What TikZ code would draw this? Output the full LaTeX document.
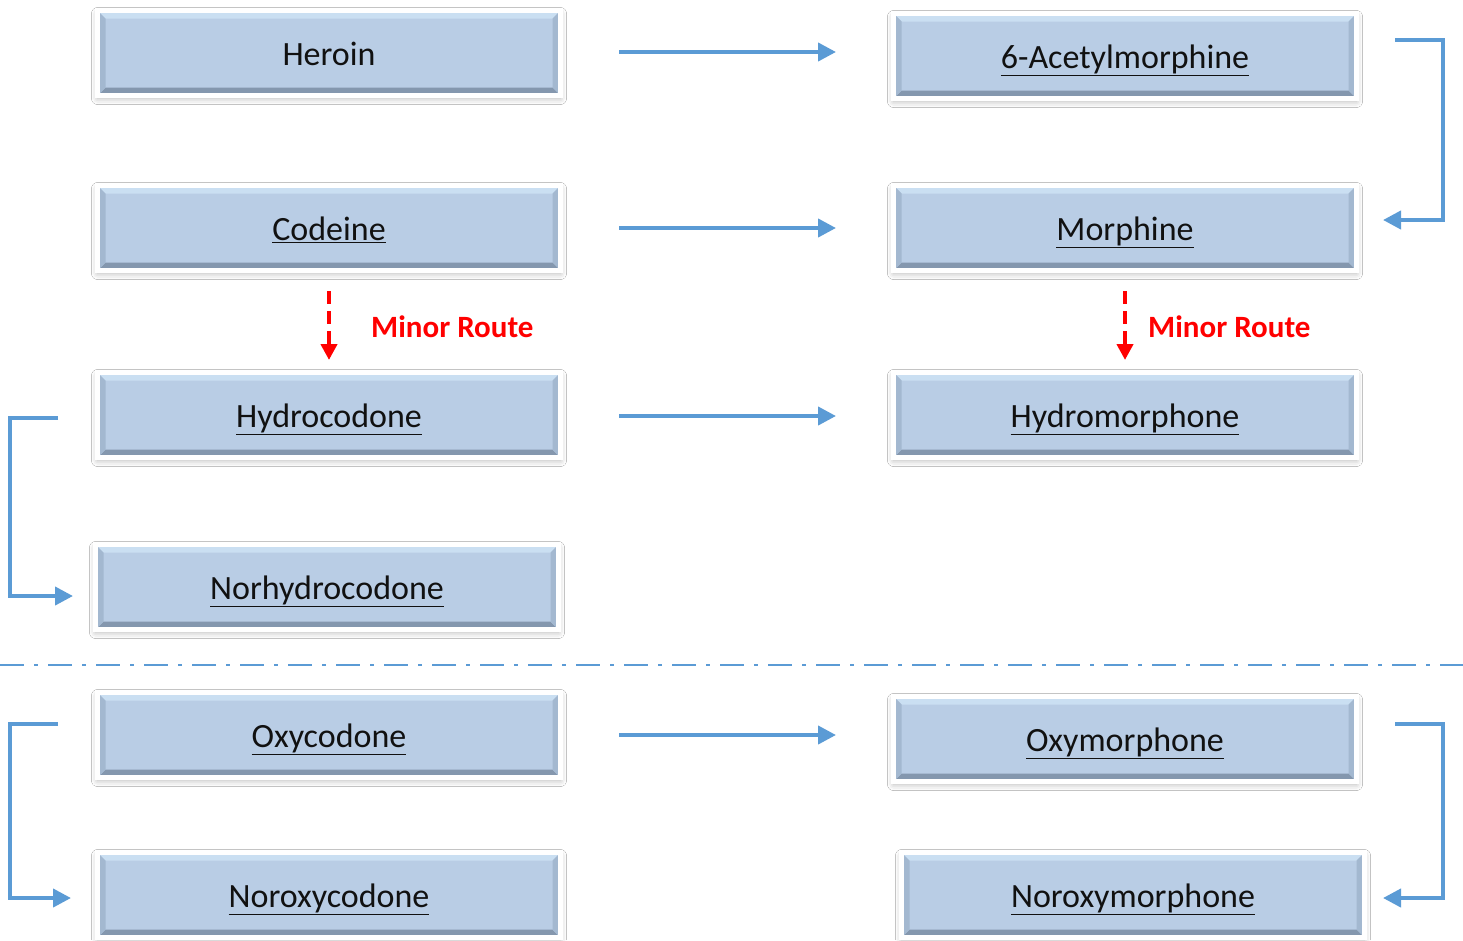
\documentclass[tikz,border=0pt]{standalone}
\usepackage{fontspec}
\setmainfont{Carlito}
\usetikzlibrary{arrows.meta,shadows.blur}
\definecolor{boxfill}{HTML}{B9CDE5}
\definecolor{boxtop}{HTML}{CADFF2}
\definecolor{boxbot}{HTML}{8497AE}
\definecolor{boxside}{HTML}{A3B8D0}
\definecolor{arrblue}{HTML}{5B9BD5}
\definecolor{txt}{HTML}{111111}
\tikzset{
  drugbox/.style={rectangle, minimum width=463pt, minimum height=85pt, inner sep=0pt,
    text height=26pt, text depth=1pt,
    fill=boxfill, draw=white, line width=5pt, text=txt,
    font=\fontsize{34}{40}\selectfont,
    blur shadow={shadow xshift=0pt, shadow yshift=-3pt, shadow blur radius=6pt, shadow opacity=30},
    path picture={
      \fill[boxtop] (path picture bounding box.north west) -- (path picture bounding box.north east)
        -- ([xshift=-8pt,yshift=-8pt]path picture bounding box.north east)
        -- ([xshift=8pt,yshift=-8pt]path picture bounding box.north west) -- cycle;
      \fill[boxbot] (path picture bounding box.south west) -- (path picture bounding box.south east)
        -- ([xshift=-8pt,yshift=8pt]path picture bounding box.south east)
        -- ([xshift=8pt,yshift=8pt]path picture bounding box.south west) -- cycle;
      \fill[boxside] (path picture bounding box.south west) -- (path picture bounding box.north west)
        -- ([xshift=8pt,yshift=-8pt]path picture bounding box.north west)
        -- ([xshift=8pt,yshift=8pt]path picture bounding box.south west) -- cycle;
      \fill[boxside] (path picture bounding box.south east) -- (path picture bounding box.north east)
        -- ([xshift=-8pt,yshift=-8pt]path picture bounding box.north east)
        -- ([xshift=-8pt,yshift=8pt]path picture bounding box.south east) -- cycle;
    }},
  flow/.style={draw=arrblue, line width=4pt, -{Triangle[length=18pt,width=18pt]}},
  minorarr/.style={draw=red, line width=4pt, dash pattern=on 13pt off 7pt, -{Triangle[length=16pt,width=16pt]}},
  minorlbl/.style={anchor=west, text=red, inner sep=0pt, font=\bfseries\fontsize{31}{37}\selectfont},
  divider/.style={draw=arrblue, line width=2.5pt, dash pattern=on 24pt off 10pt on 4pt off 10pt}
}
\newcommand{\ul}[1]{\underline{#1}}
\begin{document}
\begin{tikzpicture}[x=1pt,y=-1pt]
\useasboundingbox[fill=white] (0,0) rectangle (1463,940);
% boxes
\node[drugbox] (heroin) at (329,53) {Heroin};
\node[drugbox] (acetyl) at (1125,56) {\ul{6-Acetylmorphine}};
\node[drugbox] (codeine) at (329,228) {\ul{Codeine}};
\node[drugbox] (morphine) at (1125,228) {\ul{Morphine}};
\node[drugbox] (hydrocodone) at (329,415) {\ul{Hydrocodone}};
\node[drugbox] (hydromorphone) at (1125,415) {\ul{Hydromorphone}};
\node[drugbox] (norhydrocodone) at (327,587) {\ul{Norhydrocodone}};
\node[drugbox] (oxycodone) at (329,735) {\ul{Oxycodone}};
\node[drugbox] (oxymorphone) at (1125,739) {\ul{Oxymorphone}};
\node[drugbox] (noroxycodone) at (329,895) {\ul{Noroxycodone}};
\node[drugbox] (noroxymorphone) at (1133,895) {\ul{Noroxymorphone}};
% horizontal arrows
\draw[flow, shorten <=56pt, shorten >=55pt] ([yshift=1pt]heroin.east) -- ([yshift=1pt]heroin.east -| acetyl.west);
\draw[flow, shorten <=56pt, shorten >=55pt] (codeine.east) -- (codeine.east -| morphine.west);
\draw[flow, shorten <=56pt, shorten >=55pt] ([yshift=-1pt]hydrocodone.east) -- ([yshift=-1pt]hydrocodone.east -| hydromorphone.west);
\draw[flow, shorten <=56pt, shorten >=55pt] (oxycodone.east) -- (oxycodone.east -| oxymorphone.west);
% bracket connectors
\draw[flow] ([xshift=36pt,yshift=16pt]acetyl.east) -- ++(48,0) |- ([xshift=24pt,yshift=8pt]morphine.east);
\draw[flow] ([xshift=-37pt,yshift=-3pt]hydrocodone.west) -- ++(-48,0) |- ([xshift=-20pt,yshift=-9pt]norhydrocodone.west);
\draw[flow] ([xshift=-37pt,yshift=11pt]oxycodone.west) -- ++(-48,0) |- ([xshift=-24pt,yshift=-3pt]noroxycodone.west);
\draw[flow] ([xshift=36pt,yshift=15pt]oxymorphone.east) -- ++(48,0) |- ([xshift=16pt,yshift=-3pt]noroxymorphone.east);
% minor routes
\draw[minorarr, shorten <=18pt, shorten >=10pt] (codeine.south) -- (hydrocodone.north);
\draw[minorarr, shorten <=18pt, shorten >=10pt] (morphine.south) -- (hydromorphone.north);
\node[minorlbl] (minorL) at (371,327) {Minor Route};
\node[minorlbl] (minorR) at (1148,327) {Minor Route};
% divider
\coordinate (divL) at (0,665);
\coordinate (divR) at (1463,665);
\draw[divider] (divL) -- (divR);
\end{tikzpicture}
\end{document}
